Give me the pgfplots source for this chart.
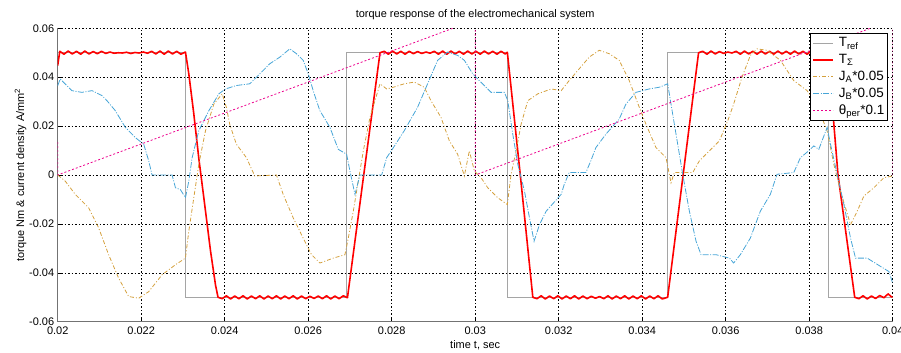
\documentclass[border=0pt]{standalone}
\usepackage{pgfplots}
\pgfplotsset{compat=1.18}
\usepackage{fontspec}
\setmainfont{Liberation Sans}
\definecolor{trefc}{RGB}{165,165,165}
\definecolor{jac}{RGB}{212,160,60}
\definecolor{jbc}{RGB}{70,165,215}
\definecolor{axc}{RGB}{115,115,115}
\newcommand{\fs}{\fontsize{11}{13}\selectfont}
\newcommand{\fl}{\fontsize{13.5}{15}\selectfont}
\begin{document}
\begin{tikzpicture}
\begin{axis}[
    width=835bp, height=293.4bp, scale only axis,
    xmin=0.02, xmax=0.04, ymin=-0.06, ymax=0.06,
    scaled ticks=false,
    xtick={0.02,0.022,0.024,0.026,0.028,0.03,0.032,0.034,0.036,0.038,0.04},
    xticklabels={0.02,0.022,0.024,0.026,0.028,0.03,0.032,0.034,0.036,0.038,0.04},
    ytick={-0.06,-0.04,-0.02,0,0.02,0.04,0.06},
    yticklabels={-0.06,-0.04,-0.02,0,0.02,0.04,0.06},
    /pgf/number format/assume math mode=true,
    axis x line*=bottom, axis y line*=left,
    axis line style={axc, line width=1.2bp},
    tick align=inside, major tick length=4bp,
    tick style={black, line width=0.5bp},
    grid=major,
    major grid style={black, line width=0.55bp, dash pattern=on 1.5bp off 2bp},
    tick label style={font=\fs, black},
    xticklabel style={yshift=-2bp},
    title={torque response of the electromechanical system},
    title style={at={(axis description cs:0.5,1.026)}, anchor=center, font=\fs},
    xlabel={time t, sec},
    xlabel style={at={(axis description cs:0.5,-0.0794)}, anchor=center, font=\fs},
    ylabel={torque Nm \& current density A/mm\textsuperscript{2}},
    ylabel style={at={(axis description cs:-0.0445,0.5)}, anchor=center, font=\fs},
    legend cell align=left,
    legend style={at={(axis description cs:0.9947,0.983)}, anchor=north east,
        draw=black, line width=0.8bp, fill=white, font=\fl,
        inner xsep=1.5bp, inner ysep=2bp, row sep=2bp},
    legend image code/.code={\draw[#1] (0bp,0bp) -- (20bp,0bp); \path (23bp,0bp);},
]
\coordinate (ll) at (rel axis cs:0,0);
\coordinate (ur) at (rel axis cs:1,1);

% T_ref
\addplot[trefc, line width=0.9bp] coordinates {
(0.02,0.05)(0.02306,0.05)(0.02306,-0.05)(0.02692,-0.05)(0.02692,0.05)
(0.03077,0.05)(0.03077,-0.05)(0.0346,-0.05)(0.0346,0.05)
(0.03845,0.05)(0.03845,-0.05)(0.04,-0.05)};
\addlegendentry{T\textsubscript{ref}}

% T_sigma
\addplot[red, line width=1.6bp, line join=round] coordinates {
(0.02000,0.0448)(0.02005,0.0506)(0.02015,0.0494)(0.02025,0.0507)(0.02035,0.0495)(0.02045,0.0506)
(0.02055,0.0494)(0.02065,0.0507)(0.02075,0.0495)(0.02085,0.0505)(0.02095,0.0496)(0.02105,0.0506)
(0.02115,0.0497)(0.02125,0.0503)(0.02135,0.0498)(0.02145,0.0500)(0.02155,0.0499)(0.02165,0.0502)
(0.02175,0.0497)(0.02185,0.0501)(0.02195,0.0499)(0.02205,0.0503)(0.02215,0.0498)(0.02225,0.0506)
(0.02235,0.0495)(0.02245,0.0507)(0.02255,0.0494)(0.02265,0.0507)(0.02275,0.0495)(0.02285,0.0506)
(0.02295,0.0494)(0.02306,0.0503)
(0.02314,0.0414)(0.02326,0.0250)(0.02338,0.0068)(0.02350,-0.0093)(0.02366,-0.0310)(0.02378,-0.0450)(0.02384,-0.0500)
(0.02394,-0.0506)(0.02404,-0.0494)(0.02414,-0.0507)(0.02424,-0.0495)(0.02434,-0.0506)(0.02444,-0.0494)
(0.02454,-0.0507)(0.02464,-0.0495)(0.02474,-0.0506)(0.02484,-0.0494)(0.02494,-0.0507)(0.02504,-0.0495)
(0.02514,-0.0506)(0.02524,-0.0494)(0.02534,-0.0507)(0.02544,-0.0495)(0.02554,-0.0506)(0.02564,-0.0494)
(0.02574,-0.0507)(0.02584,-0.0495)(0.02594,-0.0506)(0.02604,-0.0496)(0.02614,-0.0505)(0.02624,-0.0495)
(0.02634,-0.0506)(0.02644,-0.0494)(0.02654,-0.0507)(0.02664,-0.0495)(0.02674,-0.0506)(0.02684,-0.0494)
(0.02694,-0.0502)
(0.02733,0.0000)(0.02772,0.0500)
(0.02782,0.0506)(0.02792,0.0494)(0.02802,0.0507)(0.02812,0.0495)(0.02822,0.0506)(0.02832,0.0494)
(0.02842,0.0506)(0.02852,0.0496)(0.02862,0.0505)(0.02872,0.0497)(0.02882,0.0503)(0.02892,0.0498)
(0.02902,0.0506)(0.02912,0.0494)(0.02922,0.0507)(0.02932,0.0494)(0.02942,0.0507)(0.02952,0.0495)
(0.02962,0.0506)(0.02972,0.0494)(0.02982,0.0507)(0.02992,0.0495)(0.03002,0.0506)(0.03012,0.0494)
(0.03022,0.0507)(0.03032,0.0495)(0.03042,0.0506)(0.03052,0.0494)(0.03062,0.0506)(0.03072,0.0495)
(0.03077,0.0502)
(0.03108,0.0000)(0.03138,-0.0500)
(0.03148,-0.0506)(0.03158,-0.0494)(0.03168,-0.0507)(0.03178,-0.0495)(0.03188,-0.0506)(0.03198,-0.0494)
(0.03208,-0.0507)(0.03218,-0.0495)(0.03228,-0.0506)(0.03238,-0.0494)(0.03248,-0.0507)(0.03258,-0.0495)
(0.03268,-0.0506)(0.03278,-0.0496)(0.03288,-0.0504)(0.03298,-0.0497)(0.03308,-0.0506)(0.03318,-0.0494)
(0.03328,-0.0507)(0.03338,-0.0495)(0.03348,-0.0506)(0.03358,-0.0494)(0.03368,-0.0507)(0.03378,-0.0495)
(0.03388,-0.0506)(0.03398,-0.0494)(0.03408,-0.0507)(0.03418,-0.0495)(0.03428,-0.0506)(0.03438,-0.0494)
(0.03448,-0.0507)(0.03461,-0.0500)
(0.03498,0.0000)(0.03535,0.0500)
(0.03545,0.0506)(0.03555,0.0494)(0.03565,0.0507)(0.03575,0.0495)(0.03585,0.0505)(0.03595,0.0497)
(0.03605,0.0503)(0.03615,0.0499)(0.03625,0.0506)(0.03635,0.0494)(0.03645,0.0507)(0.03655,0.0495)
(0.03665,0.0506)(0.03675,0.0494)(0.03685,0.0507)(0.03695,0.0495)(0.03705,0.0506)(0.03715,0.0494)
(0.03725,0.0507)(0.03735,0.0495)(0.03745,0.0506)(0.03755,0.0494)(0.03765,0.0507)(0.03775,0.0495)
(0.03785,0.0506)(0.03795,0.0494)(0.03805,0.0507)(0.03815,0.0495)(0.03825,0.0506)(0.03835,0.0495)
(0.03845,0.0502)
(0.03869,0.0000)(0.03909,-0.0500)
(0.03919,-0.0506)(0.03929,-0.0494)(0.03939,-0.0507)(0.03949,-0.0495)(0.03959,-0.0505)(0.03969,-0.0493)
(0.03979,-0.0502)(0.03989,-0.0486)(0.03996,-0.0497)(0.04000,-0.0500)};
\addlegendentry{T\textsubscript{Σ}}

% J_A * 0.05
\addplot[jac, line width=0.8bp, dash pattern=on 4bp off 2bp on 1bp off 2bp] coordinates {
(0.02000,0.0000)(0.02018,-0.0025)(0.02042,-0.0079)(0.02074,-0.0134)(0.02098,-0.0216)(0.02122,-0.0326)
(0.02146,-0.0422)(0.02170,-0.0497)(0.02194,-0.0504)(0.02218,-0.0477)(0.02250,-0.0408)(0.02282,-0.0367)
(0.02306,-0.0340)(0.02314,-0.0230)(0.02326,-0.0093)(0.02338,0.0044)(0.02354,0.0181)(0.02374,0.0290)
(0.02394,0.0332)(0.02404,0.0277)(0.02412,0.0208)(0.02428,0.0126)(0.02452,0.0071)(0.02472,-0.0004)
(0.02524,0.0000)(0.02540,-0.0079)(0.02564,-0.0175)(0.02588,-0.0258)(0.02608,-0.0326)(0.02628,-0.0360)
(0.02660,-0.0340)(0.02688,-0.0326)(0.02696,-0.0258)(0.02708,-0.0148)(0.02720,-0.0025)(0.02732,0.0099)
(0.02748,0.0236)(0.02772,0.0373)(0.02788,0.0352)(0.02804,0.0359)(0.02830,0.0373)(0.02854,0.0380)
(0.02878,0.0359)(0.02894,0.0304)(0.02918,0.0236)(0.02938,0.0140)(0.02958,0.0085)(0.02974,-0.0004)
(0.02986,0.0099)(0.02998,0.0016)(0.03014,-0.0011)(0.03030,-0.0052)(0.03054,-0.0093)(0.03077,-0.0121)
(0.03086,0.0003)(0.03098,0.0099)(0.03110,0.0208)(0.03126,0.0304)(0.03150,0.0332)(0.03182,0.0352)
(0.03206,0.0345)(0.03225,0.0386)(0.03249,0.0434)(0.03273,0.0482)(0.03297,0.0510)(0.03321,0.0496)
(0.03345,0.0469)(0.03369,0.0386)(0.03393,0.0277)(0.03409,0.0208)(0.03433,0.0112)(0.03457,0.0071)
(0.03469,-0.0032)(0.03477,0.0010)(0.03521,0.0010)(0.03537,0.0058)(0.03561,0.0099)(0.03585,0.0140)
(0.03605,0.0222)(0.03619,0.0290)(0.03639,0.0400)(0.03659,0.0489)(0.03675,0.0516)(0.03699,0.0510)
(0.03731,0.0469)(0.03763,0.0386)(0.03795,0.0345)(0.03820,0.0280)(0.03843,0.0180)(0.03859,0.0044)
(0.03875,-0.0066)(0.03899,-0.0203)(0.03915,-0.0148)(0.03931,-0.0086)(0.03955,-0.0052)(0.03979,-0.0011)
(0.04000,-0.0004)};
\addlegendentry{J\textsubscript{A}*0.05}

% J_B * 0.05
\addplot[jbc, line width=0.8bp, dash pattern=on 6bp off 1.5bp on 1bp off 1.5bp] coordinates {
(0.02000,0.0365)(0.02006,0.0393)(0.02034,0.0345)(0.02058,0.0338)(0.02082,0.0345)(0.02106,0.0325)
(0.02118,0.0304)(0.02138,0.0263)(0.02162,0.0195)(0.02186,0.0153)(0.02206,0.0126)(0.02218,0.0058)
(0.02226,0.0000)(0.02274,0.0000)(0.02282,-0.0052)(0.02294,-0.0060)(0.02306,-0.0093)(0.02314,-0.0025)
(0.02322,0.0071)(0.02338,0.0181)(0.02362,0.0263)(0.02386,0.0332)(0.02402,0.0352)(0.02428,0.0366)
(0.02460,0.0373)(0.02476,0.0400)(0.02508,0.0455)(0.02532,0.0482)(0.02556,0.0516)(0.02572,0.0496)
(0.02588,0.0469)(0.02600,0.0414)(0.02612,0.0345)(0.02628,0.0263)(0.02652,0.0195)(0.02672,0.0105)
(0.02692,0.0085)(0.02700,0.0016)(0.02712,-0.0079)(0.02724,0.0000)(0.02776,0.0000)(0.02788,0.0071)
(0.02804,0.0112)(0.02830,0.0181)(0.02862,0.0277)(0.02886,0.0373)(0.02910,0.0469)(0.02934,0.0503)
(0.02958,0.0489)(0.02974,0.0469)(0.02994,0.0414)(0.03014,0.0379)(0.03038,0.0338)(0.03070,0.0338)
(0.03078,0.0304)(0.03090,0.0167)(0.03102,0.0044)(0.03118,-0.0066)(0.03130,-0.0175)(0.03141,-0.0271)
(0.03154,-0.0203)(0.03170,-0.0148)(0.03206,-0.0079)(0.03213,-0.0040)(0.03225,0.0010)(0.03265,0.0010)
(0.03277,0.0058)(0.03289,0.0112)(0.03313,0.0167)(0.03345,0.0229)(0.03361,0.0290)(0.03385,0.0338)
(0.03417,0.0352)(0.03441,0.0359)(0.03461,0.0373)(0.03469,0.0290)(0.03481,0.0167)(0.03497,0.0003)
(0.03513,-0.0148)(0.03529,-0.0271)(0.03541,-0.0326)(0.03577,-0.0326)(0.03609,-0.0340)(0.03619,-0.0360)
(0.03635,-0.0326)(0.03659,-0.0258)(0.03683,-0.0148)(0.03707,-0.0079)(0.03723,0.0003)(0.03763,0.0010)
(0.03779,0.0071)(0.03799,0.0099)(0.03811,0.0119)(0.03823,0.0105)(0.03843,0.0195)(0.03851,0.0126)
(0.03867,0.0003)(0.03883,-0.0120)(0.03899,-0.0258)(0.03911,-0.0340)(0.03939,-0.0340)(0.03971,-0.0374)
(0.03991,-0.0395)(0.04000,-0.0443)};
\addlegendentry{J\textsubscript{B}*0.05}

% theta_per * 0.1
\addplot[magenta, line width=0.8bp, dash pattern=on 2bp off 2bp] coordinates {
(0.02,0.0134)(0.02,0)(0.03,0.0634)(0.03,0)(0.04,0.0634)(0.04,0)};
\addlegendentry{θ\textsubscript{per}*0.1}
\end{axis}
\pgfresetboundingbox
\path ([shift={(-57.7bp,-30.3bp)}]ll) rectangle ([shift={(8.3bp,28.3bp)}]ur);
\end{tikzpicture}
\end{document}
